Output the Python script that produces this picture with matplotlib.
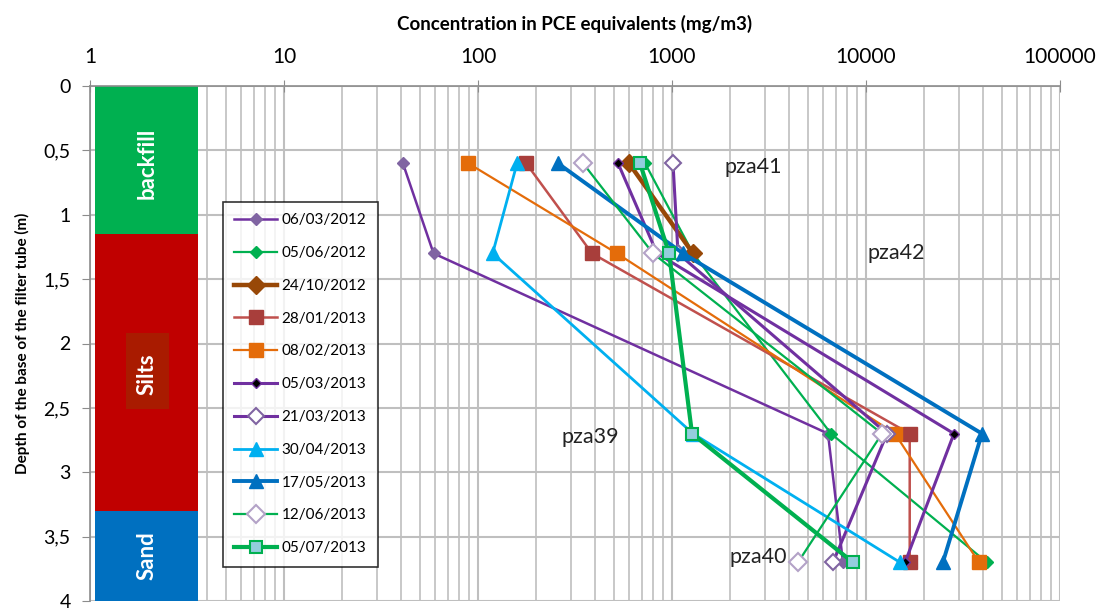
import matplotlib
matplotlib.use("Agg")
import matplotlib.pyplot as plt
from matplotlib.patches import Rectangle
from matplotlib.ticker import FixedLocator, FixedFormatter, NullFormatter, LogLocator

plt.rcParams['font.family'] = ['Lato', 'DejaVu Sans']

depths = [0.6, 1.3, 2.7, 3.7]

series_names = ["06/03/2012", "05/06/2012", "24/10/2012", "28/01/2013", "08/02/2013",
                "05/03/2013", "21/03/2013", "30/04/2013", "17/05/2013", "12/06/2013",
                "05/07/2013"]

s_06_03_2012 = [41, 59, 6370, 7610]
s_05_06_2012 = [726, 1283, 6600, 42000]
s_24_10_2012 = [600, 1283]
s_28_01_2013 = [177, 387, 16800, 16800]
s_08_02_2013 = [89, 520, 14100, 38200]
s_05_03_2013 = [527, 837, 28400, 15900]
s_21_03_2013 = [1012, 1074, 12830, 6760]
s_30_04_2013 = [159, 119, 1283, 14970]
s_17_05_2013 = [258, 1140, 39600, 24900]
s_12_06_2013 = [348, 798, 12090, 4460]
s_05_07_2013 = [684, 966, 1268, 8570]

values = [s_06_03_2012, s_05_06_2012, s_24_10_2012, s_28_01_2013, s_08_02_2013,
          s_05_03_2013, s_21_03_2013, s_30_04_2013, s_17_05_2013, s_12_06_2013,
          s_05_07_2013]

x_ticks = [1, 10, 100, 1000, 10000, 100000]
x_tick_labels = ["1", "10", "100", "1000", "10000", "100000"]
y_ticks = [0, 0.5, 1, 1.5, 2, 2.5, 3, 3.5, 4]
y_tick_labels = ["0", "0,5", "1", "1,5", "2", "2,5", "3", "3,5", "4"]

layers = [("backfill", 0.0, 1.15, "#00B050"), ("Silts", 1.15, 3.3, "#C00000"), ("Sand", 3.3, 4.0, "#0070C0")]

wells = [("pza41", 1854, 0.63), ("pza42", 10240, 1.30), ("pza39", 271, 2.73), ("pza40", 1990, 3.66)]

styles = [
    dict(color="#7030A0", lw=1.8, marker="D", ms=6, mfc="#8064A2", mec="#8064A2"),
    dict(color="#00B050", lw=1.6, marker="D", ms=6, mfc="#00B050", mec="#00B050"),
    dict(color="#984807", lw=3.2, marker="D", ms=9, mfc="#984807", mec="#984807"),
    dict(color="#C0504D", lw=1.8, marker="s", ms=10, mfc="#A83E3B", mec="#A83E3B"),
    dict(color="#E46C0A", lw=1.6, marker="s", ms=10, mfc="#E46C0A", mec="#E46C0A"),
    dict(color="#7030A0", lw=2.2, marker="D", ms=5, mfc="#000000", mec="#7030A0"),
    dict(color="#7030A0", lw=2.2, marker="D", ms=8, mfc="#FFFFFF", mec="#8064A2", mew=1.5),
    dict(color="#00B0F0", lw=2.0, marker="^", ms=10, mfc="#00B0F0", mec="#00B0F0"),
    dict(color="#0070C0", lw=2.8, marker="^", ms=10, mfc="#0070C0", mec="#0070C0"),
    dict(color="#00B050", lw=1.6, marker="D", ms=9, mfc="#FFFFFF", mec="#B3A2C7", mew=1.5),
    dict(color="#00B050", lw=3.0, marker="s", ms=8, mfc="#93CDDD", mec="#00B050", mew=1.5),
]

fig = plt.figure(figsize=(11.02, 6.13), dpi=100)
ax = fig.add_axes([90/1102, 1-601/613, 970/1102, 515/613])
ax.set_xscale("log")
ax.set_xlim(1, 100000)
ax.set_ylim(4, 0)

# grid
ax.xaxis.set_major_locator(FixedLocator(x_ticks))
ax.xaxis.set_major_formatter(FixedFormatter(x_tick_labels))
ax.xaxis.set_minor_locator(LogLocator(base=10, subs=range(2, 10)))
ax.xaxis.set_minor_formatter(NullFormatter())
ax.yaxis.set_major_locator(FixedLocator(y_ticks))
ax.yaxis.set_major_formatter(FixedFormatter(y_tick_labels))
ax.grid(which="major", axis="both", color="#BFBFBF", lw=1.5)
ax.grid(which="minor", axis="x", color="#C4C4C4", lw=1.3)
ax.set_axisbelow(True)
ax.xaxis.tick_top()
ax.xaxis.set_label_position("top")
ax.tick_params(axis="x", which="major", direction="inout", length=8, color="#8C8C8C", labelsize=15, pad=10)
ax.tick_params(axis="x", which="minor", length=0)
ax.tick_params(axis="y", which="major", direction="out", length=6, color="#8C8C8C", labelsize=14, pad=8)
for side in ["right", "bottom"]:
    ax.spines[side].set_visible(False)
for side in ["top", "left"]:
    ax.spines[side].set_color("#8C8C8C")
    ax.spines[side].set_linewidth(1.2)

# soil layers
bx0, bx1 = 1.06, 3.62
for name, d0, d1, col in layers:
    ax.add_patch(Rectangle((bx0, d0), bx1 - bx0, d1 - d0, facecolor=col, edgecolor="none", zorder=1.5))
ax.add_patch(Rectangle((1.53, 1.92), 2.55 - 1.53, 0.59, facecolor="#A91B00", edgecolor="none", zorder=1.6))
ax.text(1.96, 0.60, "backfill", rotation=90, ha="center", va="center", color="white", fontsize=16, fontweight="bold", zorder=2)
ax.text(1.96, 2.24, "Silts", rotation=90, ha="center", va="center", color="white", fontsize=16, fontweight="bold", zorder=2)
ax.text(1.96, 3.65, "Sand", rotation=90, ha="center", va="center", color="white", fontsize=16, fontweight="bold", zorder=2)

for name, vals, st in zip(series_names, values, styles):
    ax.plot(vals, depths[:len(vals)], label=name, zorder=3, **st)

for name, xv, yv in wells:
    ax.text(xv, yv, name, ha="left", va="center", fontsize=15.5, color="#222222", zorder=4)

ax.set_xlabel("Concentration in PCE equivalents (mg/m3)", fontsize=13.5, fontweight="bold", labelpad=12)
ax.set_ylabel("Depth of the base of the filter tube (m)", fontsize=11, fontweight="bold", labelpad=10)

leg = ax.legend(loc="upper left", bbox_to_anchor=(0.137, 0.775), borderaxespad=0, frameon=True,
                fancybox=False, edgecolor="black", fontsize=11, labelspacing=1.23, handlelength=2.8,
                borderpad=0.75, handletextpad=0.3)
leg.get_frame().set_linewidth(1.2)
leg.set_zorder(5)

fig.savefig("out.png", dpi=100)
